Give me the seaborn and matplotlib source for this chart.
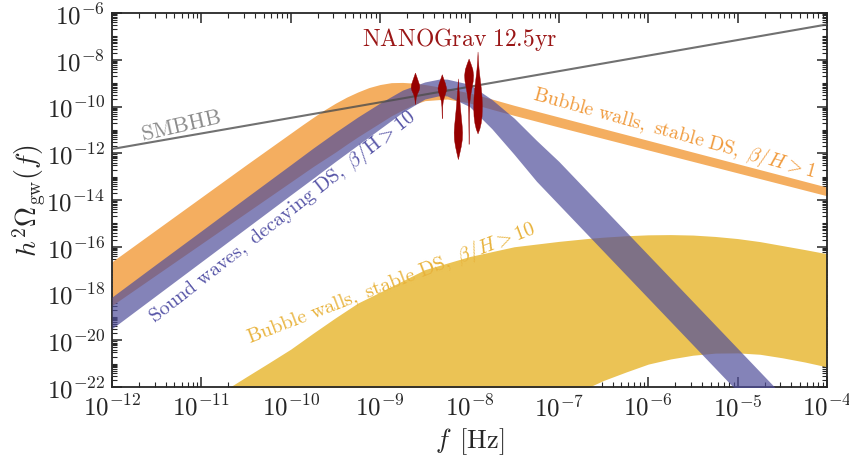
import numpy as np
import matplotlib
matplotlib.use("Agg")
import matplotlib.pyplot as plt
import matplotlib.ticker as mticker
import seaborn as sns

# ---------------- data (log10 of frequency [Hz] and of h^2 Omega_gw) ----------------
# SMBHB power law
smbhb_logf = [-12.0, -4.0]
smbhb_logom = [-11.82, -6.49]

# Bubble walls, stable DS, beta/H > 1 (orange band)
orange_logf = [-12.0, -11.5, -11.0, -10.5, -10.0, -9.875, -9.75, -9.625, -9.5, -9.375, -9.25,
               -9.125, -9.0, -8.875, -8.75, -8.625, -8.5, -8.25, -8.0, -7.75, -7.5, -7.0,
               -6.5, -6.0, -5.5, -5.0, -4.5, -4.0]
orange_hi = [-16.64, -15.26, -13.88, -12.50, -11.14, -10.80, -10.47, -10.15, -9.86, -9.60, -9.38,
             -9.19, -9.06, -8.98, -8.97, -9.00, -9.06, -9.22, -9.42, -9.68, -9.95, -10.45,
             -10.95, -11.45, -11.95, -12.45, -12.95, -13.45]
orange_lo = [-18.51, -17.19, -15.87, -14.55, -13.23, -12.90, -12.57, -12.26, -11.95, -11.62, -11.30,
             -11.00, -10.70, -10.40, -10.15, -9.92, -9.75, -9.68, -9.85, -10.12, -10.38, -10.88,
             -11.37, -11.86, -12.35, -12.84, -13.33, -13.82]

# Sound waves, decaying DS, beta/H > 10 (blue band)
blue_logf = [-12.0, -11.5, -11.0, -10.5, -10.0, -9.75, -9.5, -9.25, -9.0, -8.75, -8.5, -8.33,
             -8.25, -8.0, -7.75, -7.5, -7.25, -7.0, -6.5, -6.0, -5.5, -5.0, -4.5, -4.0]
blue_hi = [-18.15, -16.73, -15.32, -13.90, -12.49, -11.78, -11.10, -10.45, -9.85, -9.30, -8.95, -8.82,
           -8.83, -9.05, -9.70, -10.50, -11.45, -12.35, -14.35, -16.35, -18.35, -20.35, -22.35, -24.35]
blue_lo = [-19.50, -18.07, -16.64, -15.21, -13.78, -13.07, -12.35, -11.65, -10.95, -10.25, -9.68, -9.53,
           -9.55, -10.00, -10.95, -12.05, -13.20, -14.20, -16.20, -18.20, -20.20, -22.20, -24.20, -26.20]

# Bubble walls, stable DS, beta/H > 10 (yellow band)
yellow_logf = [-10.68, -10.5, -10.25, -10.0, -9.75, -9.5, -9.25, -9.0, -8.5, -8.0, -7.5, -7.0,
               -6.66, -6.5, -6.25, -6.0, -5.75, -5.5, -5.25, -5.0, -4.75, -4.5, -4.25, -4.0]
yellow_hi = [-22.0, -21.57, -20.98, -20.38, -19.70, -19.04, -18.41, -17.94, -16.98, -16.42, -16.00, -15.77,
             -15.64, -15.59, -15.53, -15.49, -15.48, -15.50, -15.56, -15.65, -15.78, -15.95, -16.12, -16.30]
yellow_lo = [-25.0, -25.0, -25.0, -25.0, -25.0, -25.0, -25.0, -25.0, -25.0, -25.0, -25.0, -25.0,
             -22.0, -21.72, -21.36, -21.02, -20.80, -20.64, -20.55, -20.54, -20.60, -20.75, -20.93, -21.14]

# NANOGrav 12.5yr violins: frequency bin, amplitude levels and half widths (in decades of f)
ng_logf = [-8.61, -8.31, -8.13, -8.01, -7.91]
ng_levels = [
    [-8.55, -8.70, -8.90, -9.05, -9.18, -9.30, -9.45, -9.60, -9.80, -9.90],
    [-8.62, -8.80, -9.00, -9.20, -9.35, -9.55, -9.75, -10.00, -10.30, -10.50],
    [-8.80, -9.20, -9.60, -10.00, -10.40, -10.80, -11.10, -11.40, -11.70, -12.00, -12.25],
    [-7.95, -8.15, -8.40, -8.65, -8.90, -9.20, -9.50, -9.80, -10.30, -11.00, -11.60],
    [-7.65, -8.00, -8.40, -8.80, -9.20, -9.60, -10.00, -10.40, -10.70, -10.95, -11.15],
]
ng_halfwidth = [
    [0.0, 0.014, 0.032, 0.045, 0.048, 0.040, 0.022, 0.009, 0.003, 0.0],
    [0.0, 0.016, 0.035, 0.048, 0.043, 0.026, 0.011, 0.004, 0.002, 0.0],
    [0.0, 0.006, 0.014, 0.022, 0.032, 0.042, 0.047, 0.044, 0.032, 0.015, 0.0],
    [0.0, 0.020, 0.042, 0.050, 0.046, 0.032, 0.018, 0.008, 0.004, 0.002, 0.0],
    [0.0, 0.004, 0.012, 0.024, 0.036, 0.045, 0.048, 0.045, 0.035, 0.020, 0.0],
]

# ---------------- style ----------------
sns.set_style("ticks")
plt.rcParams.update({
    "font.family": ["DejaVu Serif"],
    "mathtext.fontset": "cm",
    "axes.linewidth": 1.3,
})

C_ORANGE = "#F4AE60"
C_BLUE = "#504E9B"
C_YELLOW = "#EBC355"
C_RED = "#960000"

fig = plt.figure(figsize=(8.49, 4.64), dpi=100)
ax = fig.add_axes([112 / 849, 1 - 388 / 464, (827 - 112) / 849, (388 - 14) / 464])
ax.set_xscale("log")
ax.set_yscale("log")

p = lambda v: 10.0 ** np.asarray(v)

ax.fill_between(p(yellow_logf), p(yellow_lo), p(yellow_hi), color=C_YELLOW, lw=0, zorder=1)
ax.fill_between(p(orange_logf), p(orange_lo), p(orange_hi), color=C_ORANGE, lw=0, zorder=2)
ax.fill_between(p(blue_logf), p(blue_lo), p(blue_hi), color=C_BLUE, alpha=0.7, lw=0, zorder=3)

sns.lineplot(x=p(smbhb_logf), y=p(smbhb_logom), ax=ax, color="#4d4d4d", alpha=0.8,
             lw=1.5, zorder=4)

for lf, lev, hw in zip(ng_logf, ng_levels, ng_halfwidth):
    lev = np.asarray(lev)
    hw = np.asarray(hw)
    ax.fill_betweenx(p(lev), p(lf - hw), p(lf + hw), color=C_RED, lw=0.3,
                     edgecolor=C_RED, zorder=5)

ax.set_xlim(1e-12, 1e-4)
ax.set_ylim(1e-22, 1e-6)

# ticks
pow_fmt = mticker.FuncFormatter(lambda v, pos: r"$10^{%d}$" % int(round(np.log10(v))))
ax.xaxis.set_major_locator(mticker.LogLocator(base=10, numticks=20))
ax.xaxis.set_minor_locator(mticker.LogLocator(base=10, subs=np.arange(2, 10), numticks=20))
ax.yaxis.set_major_locator(mticker.LogLocator(base=100, numticks=20))
ax.yaxis.set_minor_locator(mticker.LogLocator(base=10, subs=np.arange(1, 10), numticks=40))
ax.xaxis.set_major_formatter(pow_fmt)
ax.yaxis.set_major_formatter(pow_fmt)
ax.xaxis.set_minor_formatter(mticker.NullFormatter())
ax.yaxis.set_minor_formatter(mticker.NullFormatter())
ax.tick_params(which="both", direction="in", top=True, right=True, labelsize=18)
ax.tick_params(which="major", length=7, width=1.1, pad=5)
ax.tick_params(which="minor", length=3.5, width=0.8)

ax.set_xlabel(r"$f\ \,[\mathrm{Hz}]$", fontsize=19, labelpad=4)
ax.set_ylabel(r"$h^2\Omega_{\mathrm{gw}}(f)$", fontsize=20, labelpad=-1)

# annotations
ax.text(p(-11.23), p(-10.79), r"$\mathrm{SMBHB}$", color="#8c8c8c", fontsize=16,
        rotation=13, ha="center", va="center", rotation_mode="anchor")
ax.text(p(-10.09), p(-14.68), r"$\mathrm{Sound\ waves,\ decaying\ DS,}\ \beta/\mathrm{H} > 10$",
        color="#5553A6", fontsize=14.5, rotation=38, ha="center", va="center",
        rotation_mode="anchor")
ax.text(p(-8.87), p(-17.5), r"$\mathrm{Bubble\ walls,\ stable\ DS,}\ \beta/H > 10$",
        color="#E8B23A", fontsize=14.5, rotation=21, ha="center", va="center",
        rotation_mode="anchor")
ax.text(p(-5.70), p(-11.08), r"$\mathrm{Bubble\ walls,\ stable\ DS,}\ \beta/H > 1$",
        color="#F0993A", fontsize=14.3, rotation=-15.5, ha="center", va="center",
        rotation_mode="anchor")
ax.text(p(-8.11), p(-7.11), r"$\mathrm{NANOGrav\ 12.5yr}$", color="#9A1616", fontsize=17,
        ha="center", va="center")

fig.savefig("out.png", dpi=100)
